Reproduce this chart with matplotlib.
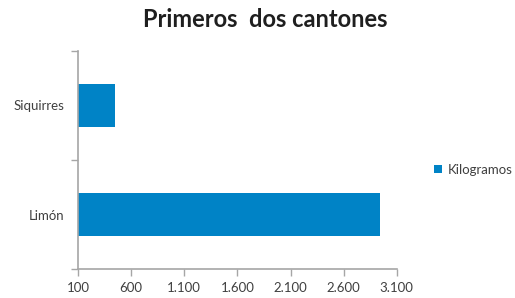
import matplotlib.pyplot as plt
from matplotlib.ticker import FuncFormatter, FixedLocator

plt.rcParams['font.family'] = ['Lato', 'DejaVu Sans']

# Data
cantones = ["Limón", "Siquirres"]
kilogramos = [2940, 450]
x_ticks = [100, 600, 1100, 1600, 2100, 2600, 3100]

bar_color = "#0083C6"
axis_color = "#A6A6A6"
text_color = "#404040"

fig = plt.figure(figsize=(5.15, 2.98), dpi=100)
ax = fig.add_axes([0.1515, 0.097, 0.619, 0.732])

base = x_ticks[0]
ax.barh(range(len(cantones)), [v - base for v in kilogramos], left=base,
        height=0.4, color=bar_color, label="Kilogramos")

ax.set_xlim(x_ticks[0], x_ticks[-1])
ax.set_ylim(-0.5, len(cantones) - 0.5)
ax.set_xticks(x_ticks)
ax.xaxis.set_major_formatter(FuncFormatter(lambda v, p: f"{int(v):,}".replace(",", ".")))
ax.set_yticks(range(len(cantones)))
ax.set_yticklabels(cantones)
ax.yaxis.set_minor_locator(FixedLocator([-0.5, 0.5, 1.5]))

ax.tick_params(axis="y", which="major", length=0, pad=10, labelsize=9.5, labelcolor=text_color)
ax.tick_params(axis="y", which="minor", length=5, color=axis_color, width=1)
ax.tick_params(axis="x", length=5, color=axis_color, width=1, labelsize=9.5, labelcolor=text_color, pad=4)

for s in ["top", "right"]:
    ax.spines[s].set_visible(False)
for s in ["left", "bottom"]:
    ax.spines[s].set_color(axis_color)
    ax.spines[s].set_linewidth(1.2)

fig.text(0.515, 0.935, "Primeros  dos cantones", ha="center", va="center",
         fontsize=17, fontweight="bold", color="#1F1F1F")

fig.legend(loc="center left", bbox_to_anchor=(0.82, 0.43), frameon=False,
           fontsize=9.5, handlelength=0.6, handleheight=0.6, handletextpad=0.4,
           labelcolor=text_color)

fig.savefig("out.png", dpi=100)
